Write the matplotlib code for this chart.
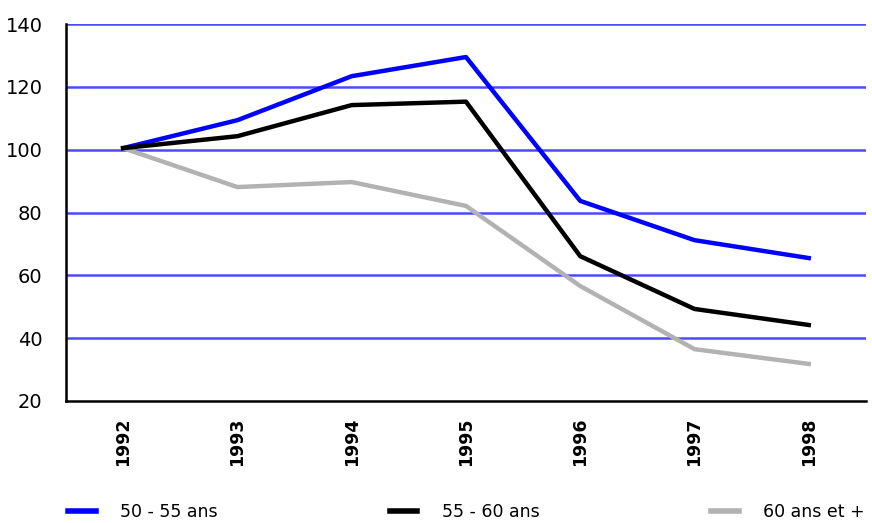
import matplotlib
matplotlib.use("Agg")
import matplotlib.pyplot as plt

years = ["1992", "1993", "1994", "1995", "1996", "1997", "1998"]
s50_55 = [100.5, 109.4, 123.4, 129.5, 83.7, 71.2, 65.5]
s55_60 = [100.5, 104.3, 114.2, 115.3, 66.1, 49.3, 44.2]
s60p = [100.5, 88.1, 89.7, 82.1, 56.6, 36.5, 31.8]
labels = ["50 - 55 ans", "55 - 60 ans", "60 ans et +"]
yticks = [20, 40, 60, 80, 100, 120, 140]

fig = plt.figure(figsize=(8.72, 5.23), dpi=100)
ax = fig.add_axes([0.0757, 0.2333, 0.9173, 0.7207])

x = list(range(len(years)))
for yv in yticks[1:]:
    ax.axhline(yv, color="#4a4aff", lw=1.8, zorder=1)

ax.plot(x, s50_55, color="#0000ff", lw=3.2, label=labels[0], zorder=3)
ax.plot(x, s55_60, color="#000000", lw=3.2, label=labels[1], zorder=3)
ax.plot(x, s60p, color="#b2b2b2", lw=3.2, label=labels[2], zorder=2)

ax.set_xlim(-0.5, len(years) - 0.5)
ax.set_ylim(20, 140)
ax.set_yticks(yticks)
ax.set_yticklabels([str(v) for v in yticks], fontsize=14)
ax.set_xticks(x)
ax.set_xticklabels(years, rotation=90, fontsize=12.5, fontweight="bold")
ax.tick_params(axis="both", length=0)
ax.tick_params(axis="x", pad=12)
ax.tick_params(axis="y", pad=17)
ax.spines["top"].set_visible(False)
ax.spines["right"].set_visible(False)
ax.spines["left"].set_linewidth(1.8)
ax.spines["bottom"].set_linewidth(1.8)

leg = fig.legend(loc="lower left", ncol=3, bbox_to_anchor=(0.07, -0.01, 0.93, 0.06),
                 mode="expand", frameon=False, fontsize=12.5, handlelength=1.6,
                 handletextpad=1.4, borderaxespad=0.0)
for lh in leg.get_lines():
    lh.set_linewidth(4)

fig.savefig("out.png", dpi=100)
